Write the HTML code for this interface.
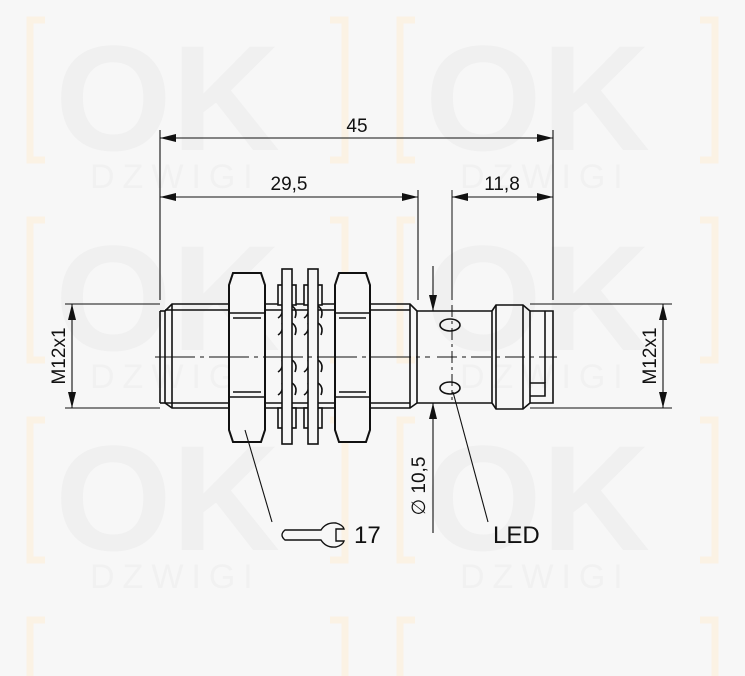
<!DOCTYPE html>
<html><head><meta charset="utf-8"><style>
html,body{margin:0;padding:0;background:#f7f7f7;width:745px;height:676px;overflow:hidden;}
svg{display:block}
</style></head><body>
<svg width="745" height="676" viewBox="0 0 745 676" xmlns="http://www.w3.org/2000/svg" font-family="Liberation Sans, sans-serif" overflow="hidden">
<rect width="745" height="676" fill="#f7f7f7"/>
<!-- watermark -->
<g fill="#f0f0f0" font-weight="bold" font-size="150">
<text x="55" y="150">OK</text><text x="425" y="150">OK</text>
<text x="55" y="350">OK</text><text x="425" y="350">OK</text>
<text x="55" y="550">OK</text><text x="425" y="550">OK</text>
</g>
<g fill="#f1f1f1" font-size="34" letter-spacing="8">
<text x="90" y="188">DZWIGI</text><text x="460" y="188">DZWIGI</text>
<text x="90" y="388">DZWIGI</text><text x="460" y="388">DZWIGI</text>
<text x="90" y="588">DZWIGI</text><text x="460" y="588">DZWIGI</text>
</g>
<g fill="none" stroke="#fbf2e4" stroke-width="7">
<path d="M45 20 H30 V160 H45"/><path d="M330 20 H345 V160 H330"/>
<path d="M415 20 H400 V160 H415"/><path d="M700 20 H715 V160 H700"/>
<path d="M45 220 H30 V360 H45"/><path d="M330 220 H345 V360 H330"/>
<path d="M415 220 H400 V360 H415"/><path d="M700 220 H715 V360 H700"/>
<path d="M45 420 H30 V560 H45"/><path d="M330 420 H345 V560 H330"/>
<path d="M415 420 H400 V560 H415"/><path d="M700 420 H715 V560 H700"/>
<path d="M45 620 H30 V676"/><path d="M330 620 H345 V676"/>
<path d="M415 620 H400 V676"/><path d="M700 620 H715 V676"/>
</g>

<g stroke="#111" stroke-width="1.6" fill="none">
<path d="M172 304 H410 L417 311 V403 L410 408 H172 L165 403 V311 Z"/>
<line x1="160" y1="311" x2="165" y2="311"/><line x1="160" y1="403" x2="165" y2="403"/>
<line x1="160" y1="311" x2="160" y2="403"/>
<line x1="165" y1="310" x2="410" y2="310"/><line x1="165" y1="403" x2="410" y2="403"/>
<line x1="172" y1="304" x2="172" y2="408"/><line x1="410" y1="304" x2="410" y2="408"/>
<path d="M417 311 H492 M417 403 H492"/>
<path d="M492 311 L496 305 H523 L530 311 V403 L523 409 H496 L492 403 Z"/>
<line x1="496" y1="305" x2="496" y2="409"/><line x1="523" y1="305" x2="523" y2="409"/>
<path d="M530 311 H553 V403 H530"/>
<path d="M530 383 H545 V396 H530"/><line x1="545" y1="311" x2="545" y2="383"/>
<ellipse cx="450" cy="325" rx="10" ry="6"/>
<ellipse cx="450" cy="388" rx="10" ry="6"/>
<g fill="#f7f7f7" stroke-width="2">
<path d="M233 273 H261 L265 285 V430 L261 442 H233 L229 430 V285 Z"/>
<path d="M339 273 H366 L370 285 V430 L366 442 H339 L335 430 V285 Z"/>
</g>
<line x1="229" y1="313" x2="265" y2="313"/><line x1="233" y1="318" x2="261" y2="318"/>
<line x1="229" y1="397" x2="265" y2="397"/><line x1="233" y1="392" x2="261" y2="392"/>
<line x1="335" y1="313" x2="370" y2="313"/><line x1="339" y1="318" x2="366" y2="318"/>
<line x1="335" y1="397" x2="370" y2="397"/><line x1="339" y1="392" x2="366" y2="392"/>
<g fill="#f7f7f7">
<rect x="278" y="285" width="18" height="20"/><rect x="304" y="285" width="18" height="20"/>
<rect x="278" y="408" width="18" height="20"/><rect x="304" y="408" width="18" height="20"/>
</g>
<path d="M278 318 q6 -4 4 -12 M292 306 q6 4 3 12 M304 318 q6 -4 4 -12 M318 306 q6 4 3 12"/>
<path d="M278 335 q6 -4 4 -12 M292 323 q6 4 3 12 M304 335 q6 -4 4 -12 M318 323 q6 4 3 12"/>
<path d="M278 372 q6 -4 4 -12 M292 360 q6 4 3 12 M304 372 q6 -4 4 -12 M318 360 q6 4 3 12"/>
<path d="M278 395 q6 -4 4 -12 M292 383 q6 4 3 12 M304 395 q6 -4 4 -12 M318 383 q6 4 3 12"/>
<rect x="282" y="269" width="10" height="175" fill="#f7f7f7"/>
<rect x="308" y="269" width="10" height="175" fill="#f7f7f7"/>
</g>
<g stroke="#111" stroke-width="1">
<line x1="155" y1="357" x2="430" y2="357" stroke-dasharray="40 5 4 5"/>
<line x1="437" y1="357" x2="557" y2="357" stroke-dasharray="20 5 4 5"/>
<line x1="452" y1="190" x2="452" y2="300"/>
<line x1="452" y1="305" x2="452" y2="400" stroke-dasharray="12 4 3 4"/>
</g>
<g stroke="#111" stroke-width="1.1" fill="none">
<line x1="160" y1="130" x2="160" y2="300"/><line x1="553" y1="130" x2="553" y2="300"/>
<line x1="418" y1="190" x2="418" y2="300"/>
<line x1="160" y1="138" x2="553" y2="138"/>
<line x1="160" y1="197" x2="418" y2="197"/>
<line x1="452" y1="197" x2="553" y2="197"/>
<line x1="65" y1="304" x2="160" y2="304"/><line x1="65" y1="408" x2="160" y2="408"/>
<line x1="72" y1="304" x2="72" y2="408"/>
<line x1="530" y1="304" x2="672" y2="304"/><line x1="530" y1="408" x2="672" y2="408"/>
<line x1="663" y1="304" x2="663" y2="408"/>
<line x1="433" y1="266" x2="433" y2="311"/><line x1="433" y1="403" x2="433" y2="533"/>
<line x1="453" y1="392" x2="488" y2="522"/>
<line x1="245" y1="430" x2="272" y2="522"/>
<path d="M285 530 H321 Q326 522 336 523 Q343 525 344 529 H336 V541 H344 Q343 545 336 547 Q326 548 321 540 H285 Q279 535 285 530 Z" stroke-width="1.4"/>
</g>
<g fill="#111">
<path d="M160 138 l16 -4 v8z"/><path d="M553 138 l-16 -4 v8z"/>
<path d="M160 197 l16 -4 v8z"/><path d="M418 197 l-16 -4 v8z"/>
<path d="M452 197 l16 -4 v8z"/><path d="M553 197 l-16 -4 v8z"/>
<path d="M72 304 l-4 16 h8z"/><path d="M72 408 l-4 -16 h8z"/>
<path d="M663 304 l-4 16 h8z"/><path d="M663 408 l-4 -16 h8z"/>
<path d="M433 311 l-4 -16 h8z"/><path d="M433 403 l-4 16 h8z"/>
</g>
<g fill="#111" font-size="19">
<text x="357" y="132" text-anchor="middle">45</text>
<text x="289" y="190" text-anchor="middle">29,5</text>
<text x="502" y="190" text-anchor="middle">11,8</text>
<text transform="translate(65 356) rotate(-90)" text-anchor="middle">M12x1</text>
<text transform="translate(656 356) rotate(-90)" text-anchor="middle">M12x1</text>
<text transform="translate(425 486) rotate(-90)" text-anchor="middle">∅ 10,5</text>
<text x="354" y="543" font-size="24">17</text>
<text x="493" y="543" font-size="24">LED</text>
</g>
</svg>
</body></html>
